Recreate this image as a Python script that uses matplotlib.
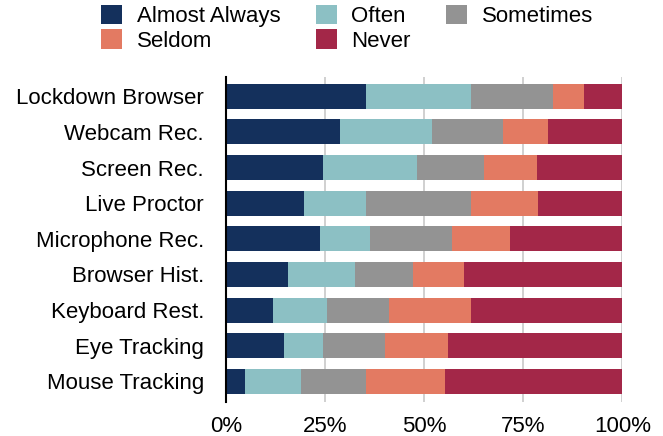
import matplotlib
matplotlib.use("Agg")
import matplotlib.pyplot as plt
import numpy as np

plt.rcParams['font.family'] = ['Liberation Sans', 'DejaVu Sans']

categories = ["Lockdown Browser", "Webcam Rec.", "Screen Rec.", "Live Proctor",
              "Microphone Rec.", "Browser Hist.", "Keyboard Rest.", "Eye Tracking",
              "Mouse Tracking"]
series_names = ["Almost Always", "Often", "Sometimes", "Seldom", "Never"]
almost_always = [35.3, 28.7, 24.4, 19.6, 23.7, 15.6, 11.8, 14.6, 4.7]
often         = [26.5, 23.2, 23.7, 15.7, 12.6, 16.9, 13.6, 9.8, 14.2]
sometimes     = [20.7, 18.0, 16.9, 26.5, 20.7, 14.6, 15.7, 15.7, 16.4]
seldom        = [7.8, 11.3, 13.5, 16.9, 14.6, 12.9, 20.7, 15.9, 19.9]
never         = [9.7, 18.8, 21.5, 21.3, 28.4, 40.0, 38.2, 44.0, 44.8]
x_ticks = [0, 25, 50, 75, 100]
x_tick_labels = ["0%", "25%", "50%", "75%", "100%"]

colors = ["#14305c", "#8cc0c4", "#939393", "#e37a62", "#a32748"]
series = [almost_always, often, sometimes, seldom, never]

fig = plt.figure(figsize=(6.63, 4.36), dpi=100)
ax = fig.add_axes([226.3/663, 1-402/436, 396/663, 325/436])

y = np.arange(len(categories))
left = np.zeros(len(categories))
handles = []
for name, vals, c in zip(series_names, series, colors):
    vals = np.array(vals)
    b = ax.barh(y, vals, left=left, height=0.7, color=c, label=name, zorder=2)
    handles.append(b)
    left = left + vals

ax.set_xlim(0, 100)
ax.set_ylim(8.58, -0.54)
ax.set_yticks(y)
ax.set_yticklabels(categories, fontsize=16)
ax.set_xticks(x_ticks)
ax.set_xticklabels(x_tick_labels, fontsize=16)
ax.tick_params(axis='y', length=0, pad=16)
ax.tick_params(axis='x', length=0, pad=10)
ax.grid(axis='x', color='#c8c8c8', linewidth=1.2, zorder=0)
ax.set_axisbelow(True)
for s in ['top', 'right', 'bottom']:
    ax.spines[s].set_visible(False)
ax.spines['left'].set_color('black')
ax.spines['left'].set_linewidth(1.5)
ax.spines['left'].set_zorder(3)

order = [0, 3, 1, 4, 2]
fig.legend([handles[i] for i in order], [series_names[i] for i in order],
           loc='upper left', bbox_to_anchor=(101/663, 1-5/436), ncol=3,
           frameon=False, fontsize=16, handlelength=0.95, handleheight=0.95,
           handletextpad=0.65, columnspacing=1.6, labelspacing=0.1, borderpad=0,
           borderaxespad=0)

fig.savefig("out.png", dpi=100)
